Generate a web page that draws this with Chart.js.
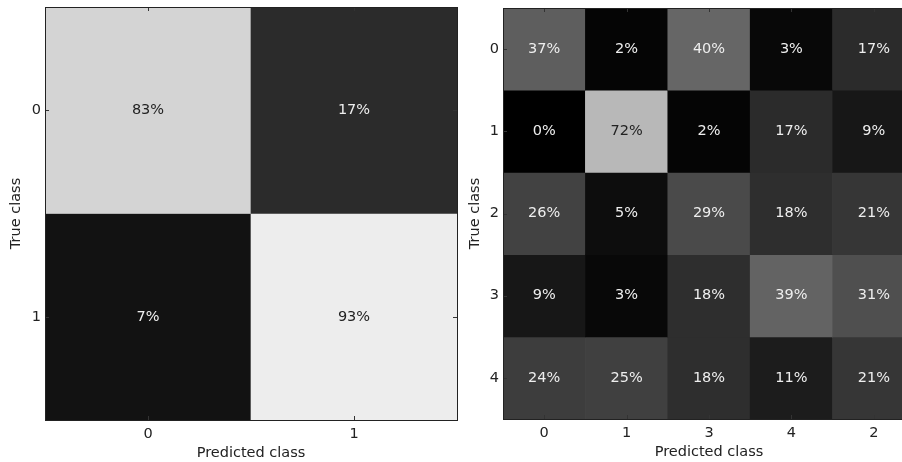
<!DOCTYPE html>
<html>
<head>
<meta charset="utf-8">
<script src="https://cdn.jsdelivr.net/npm/chart.js@4.4.1/dist/chart.umd.min.js"></script>
<style>
    html, body { margin: 0; padding: 0; background: #fff; }
    #wrap { position: relative; width: 902px; height: 462px; overflow: hidden; }
    .box { position: absolute; top: 0; height: 462px; }
</style>
</head>
<body>
<div id="wrap">
    <div class="box" style="left:0;width:460px"><canvas id="cmBinary"></canvas></div>
    <div class="box" style="left:460px;width:470px"><canvas id="cmMulti"></canvas></div>
</div>
<script>
// left matrix (2 classes)
const binaryLabels = ['0', '1'];
const binaryPredLabels = ['0', '1'];
const binaryValues = [
    [83, 17],
    [7, 93],
];

// right matrix (5 classes, columns come out in this order)
const multiLabels = ['0', '1', '2', '3', '4'];
const multiPredLabels = ['0', '1', '3', '4', '2'];
const multiValues = [
    [37, 2, 40, 3, 17],
    [0, 72, 2, 17, 9],
    [26, 5, 29, 18, 21],
    [9, 3, 18, 39, 31],
    [24, 25, 18, 11, 21],
];

const FONT = "'DejaVu Sans', sans-serif";
const FSIZE = 14.5;

// matplotlib 'gray' colormap, vmin 0 vmax 100
const grayFor = (v) => {
    const g = Math.round(v / 100 * 255);
    return `rgb(${g},${g},${g})`;
};

// cell texts + classic inward ticks and frame
const cellPlugin = {
    id: 'cellText',
    afterDatasetsDraw(chart, args, opts) {
        const { ctx } = chart;
        const xs = chart.scales.x, ys = chart.scales.y;
        ctx.save();
        ctx.font = `${FSIZE}px ${FONT}`;
        ctx.textAlign = 'center';
        ctx.textBaseline = 'middle';
        opts.values.forEach((row, r) => {
            row.forEach((v, c) => {
                ctx.fillStyle = v > 50 ? '#222' : '#eee';
                ctx.fillText(v + '%', xs.getPixelForValue(c), ys.getPixelForValue(r));
            });
        });
        ctx.restore();
    },
    afterDraw(chart) {
        const { ctx, chartArea: a } = chart;
        const xs = chart.scales.x, ys = chart.scales.y;
        ctx.save();
        ctx.strokeStyle = '#333';
        ctx.lineWidth = 1;
        ctx.beginPath();
        xs.ticks.forEach((t, i) => {
            const px = Math.round(xs.getPixelForTick(i)) + 0.5;
            ctx.moveTo(px, a.top); ctx.lineTo(px, a.top + 4);
            ctx.moveTo(px, a.bottom); ctx.lineTo(px, a.bottom - 4);
        });
        ys.ticks.forEach((t) => {
            const py = Math.round(ys.getPixelForValue(t.value)) + 0.5;
            ctx.moveTo(a.left, py); ctx.lineTo(a.left + 4, py);
            ctx.moveTo(a.right, py); ctx.lineTo(a.right - 4, py);
        });
        ctx.stroke();
        ctx.strokeStyle = '#222';
        ctx.strokeRect(Math.round(a.left) + 0.5, Math.round(a.top) + 0.5,
            Math.round(a.right - a.left), Math.round(a.bottom - a.top));
        ctx.restore();
    },
};

const makeMatrix = (canvasId, rowLabels, colLabels, values, pad, yWidth) => {
    const datasets = values.map((row, r) => ({
        label: 'true ' + rowLabels[r],
        data: row.map(() => [r - 0.5, r + 0.5]),
        backgroundColor: row.map(grayFor),
        borderWidth: 0,
        barPercentage: 1,
        categoryPercentage: 1,
        grouped: false,
    }));

    return new Chart(document.getElementById(canvasId), {
        type: 'bar',
        data: { labels: colLabels, datasets: datasets },
        plugins: [cellPlugin],
        options: {
            responsive: true,
            maintainAspectRatio: false,
            animation: false,
            layout: { padding: pad },
            plugins: {
                legend: { display: false },
                tooltip: { enabled: false },
                cellText: { values: values },
            },
            scales: {
                x: {
                    type: 'category',
                    offset: true,
                    grid: { display: false, drawTicks: false },
                    border: { display: false },
                    ticks: { color: '#222', font: { family: FONT, size: FSIZE }, padding: 6 },
                    title: {
                        display: true, text: 'Predicted class', color: '#222',
                        font: { family: FONT, size: FSIZE }, padding: { top: 1, bottom: 0 },
                    },
                    afterFit: (s) => {
                        s.height = 42;
                        s.paddingLeft = 0; s.paddingRight = 0;
                    },
                },
                y: {
                    type: 'linear',
                    reverse: true,
                    min: -0.5,
                    max: rowLabels.length - 0.5,
                    grid: { display: false, drawTicks: false },
                    border: { display: false },
                    afterBuildTicks: (s) => { s.ticks = rowLabels.map((_, i) => ({ value: i })); },
                    ticks: {
                        color: '#222', font: { family: FONT, size: FSIZE }, padding: 4,
                        callback: (v) => rowLabels[v],
                    },
                    title: {
                        display: true, text: 'True class', color: '#222',
                        font: { family: FONT, size: FSIZE }, padding: { top: 0, bottom: 0 },
                    },
                    afterFit: (s) => {
                        s.width = yWidth;
                        s.paddingTop = 0; s.paddingBottom = 0;
                    },
                },
            },
        },
    });
};

makeMatrix('cmBinary', binaryLabels, binaryPredLabels, binaryValues,
    { left: 8, top: 7, right: 3, bottom: 0 }, 37);
makeMatrix('cmMulti', multiLabels, multiPredLabels, multiValues,
    { left: 7, top: 8, right: 15, bottom: 1 }, 36);
</script>
</body>
</html>
